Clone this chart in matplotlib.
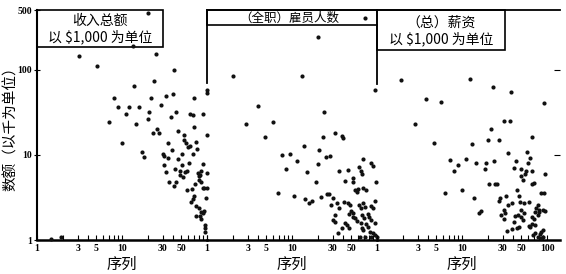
import matplotlib
matplotlib.use("Agg")
import matplotlib.pyplot as plt
from matplotlib.patches import Rectangle
from matplotlib.ticker import FixedLocator, NullFormatter

plt.rcParams['font.family'] = ['Noto Sans CJK SC', 'DejaVu Sans']

# ---------------- data ----------------
titles = [["收入总额", "以 $1,000 为单位"], ["（全职）雇员人数"], ["（总）薪资", "以 $1,000 为单位"]]
y_label = "数额（以千为单位）"
x_label = "序列"

x_major = [1, 3, 5, 10, 30, 50, 100]
x_minor = [2, 4, 6, 7, 8, 9, 20, 40, 60, 70, 80, 90]
x_labels_1 = ['1', '3', '5', '10', '30', '50', '1']
x_labels_2 = ['', '3', '5', '10', '30', '50', '1']
x_labels_3 = ['', '3', '5', '10', '30', '50', '100']
y_ticks = [1, 10, 100, 500]
y_labels = ['1', '10', '100', '500']

# panel 1: total income
rank1 = [20, 13.6, 3.1, 25, 5.1, 41, 24, 14, 99, 99, 8.0, 9.0, 12, 16, 11, 7.0, 14.7, 22, 21, 20,
         29, 33, 40, 43, 38, 71, 63, 69, 89, 71, 46, 53, 100, 23, 26, 27, 9.9, 35, 53, 57,
         75, 17, 18, 63, 60, 38.5, 30, 31, 34.5, 51, 68, 76, 46, 31, 51, 62, 90, 42, 48, 55,
         33, 48, 52, 58, 78, 83, 81, 85, 99, 36, 41, 43, 58, 66, 73, 81, 85, 89, 93, 99,
         70, 65, 68, 97, 75, 81, 85, 74, 83, 89, 86, 93, 95, 95, 95, 1.46, 1.9]
income = [465, 188, 146, 151, 110, 98, 73, 65, 58, 53, 47, 36, 36, 36, 30, 24, 23, 46, 32, 26,
          38, 49, 52, 31.5, 28, 47, 30, 29, 30, 21, 19, 17, 17, 18, 20, 18, 13.7, 13.7, 15, 13.7,
          14, 10.9, 9.5, 12.8, 12.5, 11.5, 10.2, 9.8, 9.1, 10.3, 10.3, 11.7, 8.9, 7.5, 7.5, 8.0, 7.8, 6.9, 6.5, 6.2,
          6.2, 5.8, 5.5, 6.4, 6.1, 5.8, 5.6, 6.4, 6.1, 4.85, 4.35, 4.85, 3.9, 4.0, 4.5, 5.1, 4.85, 4.1, 4.1, 4.1,
          3.3, 2.8, 3.0, 3.15, 2.5, 2.4, 2.15, 1.9, 1.9, 2.06, 1.77, 2.2, 1.5, 1.37, 1.25, 1.04, 1.09]

# panel 2: full-time employees
rank2 = [73, 20, 2.05, 13, 96, 4.0, 24, 2.9, 5.9, 4.8, 23, 32, 39, 40, 13.7, 7.7, 9.5, 11.5, 21, 25,
         28, 20, 8.6, 15, 36, 46, 69, 86, 90, 61, 64, 67, 19, 42, 52, 52, 98, 6.8, 10.6, 14.3,
         17.3, 16, 22, 26, 27.4, 30, 29, 34, 36, 41, 45, 48.5, 54.5, 58, 60, 69, 75, 50, 52, 47,
         61, 64, 69, 73, 85, 90, 32, 30.6, 32, 42, 44, 52, 55, 58, 66, 71, 79, 81, 86, 95,
         64.5, 66, 69, 75, 79, 39, 35, 47, 83, 90, 95, 99, 86, 63, 73, 96]
employees = [407, 242, 84, 83, 57, 37, 32, 23, 24, 16, 16, 18, 16.7, 15.7, 12.8, 10, 10.2, 8.5, 11.5, 9.4,
             9.7, 7.8, 6.8, 6.2, 6.5, 6.6, 8.9, 8.1, 7.3, 7.2, 6.5, 6.0, 4.8, 4.9, 5.3, 4.85, 4.85, 3.6, 3.3, 3.0,
             2.9, 2.7, 3.2, 3.5, 3.5, 3.1, 2.6, 2.7, 2.4, 2.8, 2.7, 2.6, 3.9, 3.7, 3.95, 4.1, 3.9, 2.2, 2.06, 2.0,
             2.6, 2.36, 2.7, 2.46, 2.5, 2.36, 1.97, 1.72, 1.64, 1.57, 1.5, 1.88, 1.8, 1.67, 1.97, 1.83, 2.0, 1.88, 1.72, 1.57,
             1.57, 1.37, 1.31, 1.53, 1.43, 1.37, 1.22, 1.4, 1.25, 1.2, 1.15, 1.09, 1.09, 1.09, 1.09, 2.9]

# panel 3: total payroll
rank3 = [1.9, 12.5, 23, 38, 3.8, 5.7, 92, 2.8, 31, 37, 22, 20, 27, 66, 4.7, 13, 34.5, 58, 63, 60,
         7.2, 9.0, 8.0, 11, 14.7, 19, 24, 18.5, 43, 41, 50, 66, 95, 49, 52, 55, 57, 20.5, 24.4, 26,
         66, 70.5, 6.3, 10.1, 13.7, 44, 86, 93, 28, 27, 33, 35, 39, 31, 47, 48, 54, 61, 50, 53.5,
         79, 75, 80, 73, 90, 95, 16, 16.6, 29, 31, 32, 41, 42, 45, 49, 52, 66, 71, 78, 81,
         61, 63, 66, 73, 33.5, 38.5, 44, 47, 69, 73, 79, 83, 86, 90, 86, 90]
payroll = [75, 77, 63, 55, 45, 42, 40, 23, 25, 25, 20, 15, 15, 16.3, 13.6, 13.3, 10.5, 10.9, 9.1, 8.0,
           8.6, 7.5, 6.5, 8.9, 8.0, 8.1, 8.4, 6.8, 8.4, 7.0, 6.9, 6.4, 6.0, 5.7, 5.1, 5.9, 6.5, 4.5, 4.5, 4.5,
           4.56, 4.65, 3.6, 3.9, 3.1, 3.9, 3.6, 3.6, 3.1, 2.9, 3.3, 2.6, 2.7, 2.25, 3.3, 2.8, 2.75, 2.8, 2.25, 2.1,
           2.6, 2.36, 2.25, 2.15, 2.25, 2.2, 2.1, 2.17, 1.97, 1.75, 2.1, 1.64, 1.92, 1.97, 1.88, 1.72, 1.88, 1.78, 1.97, 2.15,
           1.46, 1.41, 1.54, 1.5, 1.29, 1.34, 1.37, 1.41, 1.15, 1.2, 1.09, 1.17, 1.25, 1.31, 1.05, 1.08]

# ---------------- layout ----------------
W, H = 566, 274
fig = plt.figure(figsize=(W / 100, H / 100), dpi=100)
bot = 1 - 240 / H
hgt = 230 / H
ax1 = fig.add_axes([37 / W, bot, 170 / W, hgt])
ax2 = fig.add_axes([207 / W, bot, 170 / W, hgt])
ax3 = fig.add_axes([377 / W, bot, 183 / W, hgt])
axes = [ax1, ax2, ax3]

data = [(rank1, income), (rank2, employees), (rank3, payroll)]
xlabels = [x_labels_1, x_labels_2, x_labels_3]
xmax = [100, 100, 142]
num_font = dict(family='Liberation Serif', fontweight='bold', fontsize=7)

for ax, (xs, ys), xl, xm in zip(axes, data, xlabels, xmax):
    ax.set_xscale('log')
    ax.set_yscale('log')
    ax.set_xlim(1, xm)
    ax.set_ylim(1, 500)
    ax.patch.set_alpha(0)
    ax.scatter(xs, ys, s=9, color='#111111', linewidths=0, clip_on=False, zorder=5)
    for side in ['left', 'right', 'top']:
        ax.spines[side].set_visible(False)
    ax.spines['bottom'].set_linewidth(1.8)
    ax.xaxis.set_major_locator(FixedLocator(x_major))
    ax.xaxis.set_minor_locator(FixedLocator(x_minor))
    ax.xaxis.set_minor_formatter(NullFormatter())
    ax.set_xticklabels(xl, **num_font)
    ax.tick_params(axis='x', which='both', direction='in', length=3.5, width=0.8, pad=3)
    ax.set_xlabel(x_label, fontsize=11)
    ax.yaxis.set_minor_locator(FixedLocator([]))
    ax.yaxis.set_minor_formatter(NullFormatter())

for ax in [ax1, ax2]:
    ax.xaxis.set_label_coords(0.5, -0.07)
ax3.xaxis.set_label_coords((462 - 377) / 183, -0.07)

# y axis on the first panel
ax1.spines['left'].set_visible(True)
ax1.spines['left'].set_linewidth(1.5)
ax1.yaxis.set_major_locator(FixedLocator(y_ticks))
ax1.set_yticklabels(y_labels, **num_font)
ax1.tick_params(axis='y', which='major', direction='inout', length=5, width=0.8, pad=1)
ax1.set_ylabel(y_label, fontsize=10.5)
ax1.yaxis.set_label_coords(-0.113, 0.5)

ax2.tick_params(axis='y', which='both', left=False, labelleft=False)
ax3.yaxis.set_major_locator(FixedLocator([10, 100]))
ax3.tick_params(axis='y', which='major', left=False, labelleft=False, right=True,
                direction='in', length=4, width=0.8)

# frame pieces
ax2.spines['top'].set_visible(True)
ax3.spines['top'].set_visible(True)
ax2.spines['top'].set_linewidth(1.3)
ax3.spines['top'].set_linewidth(1.3)
ax1.axvline(100, ymin=0.683, ymax=1.0, color='black', lw=1.3, clip_on=False)
ax2.axvline(100, ymin=0.678, ymax=0.935, color='black', lw=1.3, clip_on=False)

# title boxes
box_kw = dict(fill=False, edgecolor='black', lw=1.2, clip_on=False, zorder=3)
ax1.add_patch(Rectangle((0, 0.839), 0.741, 0.161, transform=ax1.transAxes, **box_kw))
ax2.add_patch(Rectangle((0, 0.935), 1.0, 0.065, transform=ax2.transAxes, **box_kw))
ax3.add_patch(Rectangle((0, 0.826), 0.699, 0.174, transform=ax3.transAxes, **box_kw))

tkw = dict(ha='center', va='center', fontsize=10, zorder=4)
ax1.text(0.37, 0.955, titles[0][0], transform=ax1.transAxes, **tkw)
ax1.text(0.37, 0.882, titles[0][1], transform=ax1.transAxes, **tkw)
ax2.text(0.482, 0.964, titles[1][0], transform=ax2.transAxes,
         ha='center', va='center', fontsize=9, zorder=4)
ax3.text(0.35, 0.944, titles[2][0], transform=ax3.transAxes, **tkw)
ax3.text(0.35, 0.873, titles[2][1], transform=ax3.transAxes, **tkw)

fig.savefig('out.png', dpi=100)
